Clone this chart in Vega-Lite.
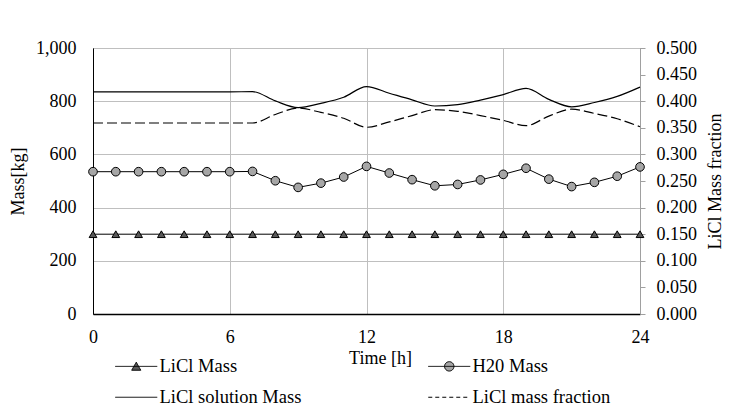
{
  "$schema": "https://vega.github.io/schema/vega-lite/v6.json",
  "width": 547,
  "height": 266,
  "autosize": {"type": "none"},
  "padding": {"left": 93, "top": 48, "right": 89, "bottom": 98},
  "background": "white",
  "config": {
    "font": "Liberation Serif",
    "view": {"stroke": "black", "strokeWidth": 1},
    "axis": {"labelFont": "Liberation Serif", "titleFont": "Liberation Serif", "labelFontSize": 18, "titleFontSize": 18, "labelColor": "black", "titleColor": "black", "titleFontWeight": "normal", "gridColor": "#bfbfbf", "gridWidth": 1}
  },
  "data": {"values": [
    {"t": 0, "licl": 300, "h2o": 535, "sol": 835, "frac": 0.359},
    {"t": 1, "licl": 300, "h2o": 535, "sol": 835, "frac": 0.359},
    {"t": 2, "licl": 300, "h2o": 535, "sol": 835, "frac": 0.359},
    {"t": 3, "licl": 300, "h2o": 535, "sol": 835, "frac": 0.359},
    {"t": 4, "licl": 300, "h2o": 535, "sol": 835, "frac": 0.359},
    {"t": 5, "licl": 300, "h2o": 535, "sol": 835, "frac": 0.359},
    {"t": 6, "licl": 300, "h2o": 535, "sol": 835, "frac": 0.359},
    {"t": 7, "licl": 300, "h2o": 536, "sol": 836, "frac": 0.359},
    {"t": 8, "licl": 300, "h2o": 501, "sol": 801, "frac": 0.375},
    {"t": 9, "licl": 300, "h2o": 476, "sol": 776, "frac": 0.387},
    {"t": 10, "licl": 300, "h2o": 492, "sol": 792, "frac": 0.379},
    {"t": 11, "licl": 300, "h2o": 515, "sol": 815, "frac": 0.368},
    {"t": 12, "licl": 300, "h2o": 555, "sol": 855, "frac": 0.351},
    {"t": 13, "licl": 300, "h2o": 530, "sol": 830, "frac": 0.361},
    {"t": 14, "licl": 300, "h2o": 505, "sol": 805, "frac": 0.373},
    {"t": 15, "licl": 300, "h2o": 482, "sol": 782, "frac": 0.384},
    {"t": 16, "licl": 300, "h2o": 487, "sol": 787, "frac": 0.381},
    {"t": 17, "licl": 300, "h2o": 504, "sol": 804, "frac": 0.373},
    {"t": 18, "licl": 300, "h2o": 525, "sol": 825, "frac": 0.364},
    {"t": 19, "licl": 300, "h2o": 548, "sol": 848, "frac": 0.354},
    {"t": 20, "licl": 300, "h2o": 507, "sol": 807, "frac": 0.372},
    {"t": 21, "licl": 300, "h2o": 479, "sol": 779, "frac": 0.385},
    {"t": 22, "licl": 300, "h2o": 495, "sol": 795, "frac": 0.377},
    {"t": 23, "licl": 300, "h2o": 518, "sol": 818, "frac": 0.367},
    {"t": 24, "licl": 300, "h2o": 553, "sol": 853, "frac": 0.352}
  ]},
  "encoding": {
    "x": {"field": "t", "type": "quantitative", "scale": {"domain": [0, 24], "nice": false},
      "axis": {"values": [0, 6, 12, 18, 24], "title": "Time [h]", "grid": true, "ticks": false, "labelFlush": false, "domainColor": "black", "domainWidth": 1.5, "labelPadding": 14, "titleX": 287, "titleY": 44, "titleBaseline": "middle", "titleAnchor": "middle"}}
  },
  "layer": [
    {
      "encoding": {
        "y": {"type": "quantitative", "scale": {"domain": [0, 1000], "nice": false},
          "axis": {"title": "Mass[kg]", "values": [0, 200, 400, 600, 800, 1000], "format": ",.0f", "grid": true, "ticks": false, "labelFlush": false, "domainColor": "black", "labelPadding": 17, "titleX": -75, "titleY": 133, "titleBaseline": "middle", "titleAnchor": "middle"}}
      },
      "layer": [
        {
          "mark": {"type": "line", "strokeWidth": 1},
          "encoding": {
            "y": {"field": "licl"},
            "color": {"datum": "LiCl Mass", "type": "nominal",
              "scale": {"domain": ["LiCl Mass", "LiCl solution Mass", "H20 Mass", "LiCl mass fraction"], "range": ["black", "black", "black", "black"]},
              "legend": {"title": null, "orient": "none", "legendX": 20, "legendY": 309, "columns": 2, "columnPadding": 124, "rowPadding": 12, "symbolSize": 196, "labelOffset": 28, "labelFont": "Liberation Serif", "labelFontSize": 18.5, "labelColor": "black", "labelLimit": 300,
                "encode": {"symbols": {"update": {
                  "shape": {"signal": "datum.value == 'LiCl Mass' ? 'M-1,0H5M2,-0.6L2.65,0.55L1.35,0.55Z' : datum.value == 'H20 Mass' ? 'M-1,0H5M2.67,0A0.67,0.67,0,1,1,1.33,0A0.67,0.67,0,1,1,2.67,0Z' : 'M-1,0H5'"},
                  "fill": {"signal": "datum.value == 'LiCl Mass' ? '#595959' : datum.value == 'H20 Mass' ? '#a6a6a6' : 'transparent'"},
                  "stroke": {"value": "black"},
                  "strokeWidth": {"value": 1},
                  "opacity": {"value": 1},
                  "strokeDash": {"signal": "datum.value == 'LiCl mass fraction' ? [4, 3] : [1, 0]"}
                }}}}
            }
          }
        },
        {
          "mark": {"type": "point", "shape": "triangle-up", "filled": true, "fill": "#595959", "stroke": "black", "strokeWidth": 1, "size": 60, "opacity": 1},
          "encoding": {"y": {"field": "licl"}}
        },
        {
          "mark": {"type": "line", "strokeWidth": 1},
          "encoding": {
            "y": {"field": "h2o"},
            "color": {"datum": "H20 Mass", "type": "nominal"}
          }
        },
        {
          "mark": {"type": "point", "shape": "circle", "filled": true, "fill": "#a6a6a6", "stroke": "black", "strokeWidth": 1, "size": 75, "opacity": 1},
          "encoding": {"y": {"field": "h2o"}}
        },
        {
          "mark": {"type": "line", "strokeWidth": 1.2, "interpolate": "monotone"},
          "encoding": {
            "y": {"field": "sol"},
            "color": {"datum": "LiCl solution Mass", "type": "nominal"}
          }
        }
      ]
    },
    {
      "mark": {"type": "line", "strokeWidth": 1.2, "strokeDash": [10, 4], "interpolate": "monotone"},
      "encoding": {
        "y": {"field": "frac", "type": "quantitative", "scale": {"domain": [0, 0.5], "nice": false},
          "axis": {"orient": "right", "title": "LiCl Mass fraction", "values": [0, 0.05, 0.1, 0.15, 0.2, 0.25, 0.3, 0.35, 0.4, 0.45, 0.5], "format": ".3f", "grid": false, "ticks": true, "tickSize": 5, "tickColor": "#a0a0a0", "domainColor": "#a0a0a0", "labelFlush": false, "labelPadding": 11, "titleAngle": 270, "titleX": 75, "titleY": 133, "titleBaseline": "middle", "titleAnchor": "middle"}},
        "color": {"datum": "LiCl mass fraction", "type": "nominal"}
      }
    }
  ],
  "resolve": {"scale": {"y": "independent"}}
}
